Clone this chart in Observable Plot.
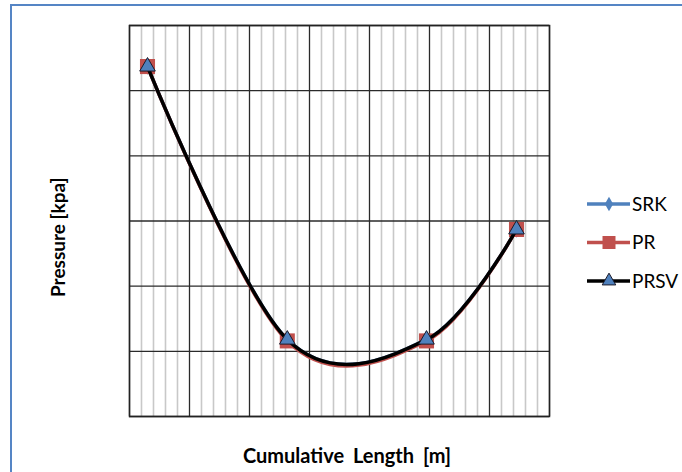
<!DOCTYPE html>
<html><head><meta charset="utf-8">
<script src="https://cdn.jsdelivr.net/npm/d3@7"></script>
<script src="https://cdn.jsdelivr.net/npm/@observablehq/plot@0.6"></script>
<style>
body{margin:0;background:#fff;overflow:hidden;width:682px;height:472px;position:relative;font-family:Lato,sans-serif}
#border{position:absolute;left:10px;top:4px;width:800px;height:600px;border-left:2px solid #5585c5;border-top:2px solid #5585c5}
#chart{position:absolute;left:0;top:0}
#legend{position:absolute;left:0;top:0}
#chart text{word-spacing:4px}
</style></head><body>
<div id="border"></div><div id="chart"></div><svg id="legend" width="682" height="472"></svg>
<script>
const seriesNames = ["SRK", "PR", "PRSV"];
const lengthM = [30, 263, 495, 645];
const srkKpa = [537, 118, 118, 287];
const prKpa = [537, 116, 116, 287];
const prsvKpa = [537, 118, 118, 287];
const xMajorTicks = [0, 100, 200, 300, 400, 500, 600, 700];
const yMajorTicks = [0, 100, 200, 300, 400, 500, 600];
const xTitle = "Cumulative Length [m]";
const yTitle = "Pressure [kpa]";

const blue = "#4f81bd", red = "#c0504d";
const xMinor = d3.range(0, 701, 20).filter(v => v % 100 !== 0);
const rows = (vals, name) => lengthM.map((x, i) => ({x, y: vals[i], name}));
const srk = rows(srkKpa, "SRK"), pr = rows(prKpa, "PR"), prsv = rows(prsvKpa, "PRSV");

const chart = Plot.plot({
  width: 682, height: 472,
  marginLeft: 129, marginRight: 133, marginTop: 25, marginBottom: 56,
  x: {domain: [0, 700], axis: null},
  y: {domain: [0, 600], axis: null},
  style: {fontFamily: "Lato, sans-serif", background: "transparent"},
  marks: [
    Plot.ruleX(xMinor, {stroke: "#c8c8c8", strokeWidth: 1.6}),
    Plot.ruleX(xMajorTicks, {stroke: "#2a2a2a", strokeWidth: 1.3}),
    Plot.ruleY(yMajorTicks, {stroke: "#2a2a2a", strokeWidth: 1.3}),
    Plot.frame({stroke: "#222", strokeWidth: 1.5}),
    Plot.line(srk, {x: "x", y: "y", curve: "cardinal", stroke: blue, strokeWidth: 3.5}),
    Plot.dot(srk, {x: "x", y: "y", symbol: "diamond", r: 5, fill: blue, stroke: "none"}),
    Plot.line(pr, {x: "x", y: "y", curve: "cardinal", stroke: red, strokeWidth: 3.5}),
    Plot.dot(pr, {x: "x", y: "y", symbol: "square", r: 8.5, fill: red, stroke: "none"}),
    Plot.line(prsv, {x: "x", y: "y", curve: "cardinal", stroke: "#000", strokeWidth: 3.5}),
    Plot.dot(prsv, {x: "x", y: "y", symbol: "triangle", r: 5.8, fill: blue, stroke: "#1a1a2a", strokeWidth: 1}),
    Plot.text([xTitle], {frameAnchor: "bottom", lineAnchor: "bottom", textAnchor: "middle", dx: 7.5, dy: 46, fontSize: 20, fontWeight: "bold", fill: "#000"})
  ]
});
document.getElementById("chart").appendChild(chart);

const lg = d3.select("#legend");
// y axis title
lg.append("text").attr("x", 0).attr("y", 0).attr("transform", "translate(65,297) rotate(-90)")
  .attr("text-anchor", "start").attr("font-family", "Lato, sans-serif")
  .attr("font-size", 19).attr("font-weight", "bold").attr("fill", "#000").text(yTitle);

// legend
const legendItems = [
  {name: seriesNames[0], line: blue, sym: d3.symbolDiamond, size: 60, fill: blue, stroke: "none"},
  {name: seriesNames[1], line: red, sym: d3.symbolSquare, size: 169, fill: red, stroke: "none"},
  {name: seriesNames[2], line: "#000", sym: d3.symbolTriangle, size: 80, fill: blue, stroke: "#1a1a2a"}
];
legendItems.forEach((d, i) => {
  const cy = 204 + i * 38.5;
  const g = lg.append("g");
  g.append("line").attr("x1", 587).attr("x2", 630).attr("y1", cy).attr("y2", cy)
    .attr("stroke", d.line).attr("stroke-width", 3.5);
  g.append("path").attr("d", d3.symbol(d.sym, d.size)()).attr("transform", `translate(609,${cy})`)
    .attr("fill", d.fill).attr("stroke", d.stroke);
  g.append("text").attr("x", 632).attr("y", cy + 6.5).text(d.name)
    .attr("font-family", "Lato, sans-serif").attr("font-size", 19).attr("fill", "#000");
});
</script>
</body></html>
